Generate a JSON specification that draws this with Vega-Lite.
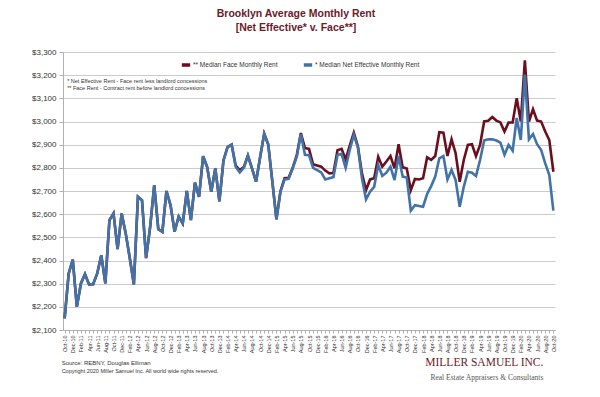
{
  "$schema": "https://vega.github.io/schema/vega-lite/v6.json",
  "width": 492,
  "height": 278,
  "autosize": {"type": "none"},
  "padding": {"left": 63, "top": 52, "right": 45, "bottom": 67},
  "background": "white",
  "config": {
    "view": {"stroke": null},
    "font": "Liberation Sans",
    "numberFormat": "$,.0f",
    "axisY": {
      "tickCount": 12, "labelOverlap": false, "labelBound": false, "title": null,
      "labelFontSize": 8, "labelColor": "#333", "gridColor": "#cccccc",
      "domainColor": "#b0b0b0", "tickColor": "#b0b0b0", "tickSize": 4, "labelPadding": 3
    }
  },
  "title": {
    "text": ["Brooklyn Average Monthly Rent", "[Net Effective* v. Face**]"],
    "font": "Liberation Sans",
    "fontSize": 10.5,
    "fontWeight": "bold",
    "color": "#6b1a2a",
    "lineHeight": 14,
    "offset": 15,
    "anchor": "middle",
    "dx": -13
  },
  "data": {"values": [
    {"m":"Oct-10","face":2150,"net":2150},{"m":"Nov-10","face":2344,"net":2344},{"m":"Dec-10","face":2404,"net":2404},
    {"m":"Jan-11","face":2200,"net":2200},{"m":"Feb-11","face":2301,"net":2301},{"m":"Mar-11","face":2341,"net":2341},
    {"m":"Apr-11","face":2297,"net":2297},{"m":"May-11","face":2298,"net":2298},{"m":"Jun-11","face":2344,"net":2344},
    {"m":"Jul-11","face":2423,"net":2423},{"m":"Aug-11","face":2301,"net":2301},{"m":"Sep-11","face":2574,"net":2574},
    {"m":"Oct-11","face":2603,"net":2603},{"m":"Nov-11","face":2449,"net":2449},{"m":"Dec-11","face":2603,"net":2603},
    {"m":"Jan-12","face":2517,"net":2517},{"m":"Feb-12","face":2410,"net":2410},{"m":"Mar-12","face":2297,"net":2297},
    {"m":"Apr-12","face":2675,"net":2675},{"m":"May-12","face":2660,"net":2660},{"m":"Jun-12","face":2410,"net":2410},
    {"m":"Jul-12","face":2545,"net":2545},{"m":"Aug-12","face":2725,"net":2725},{"m":"Sep-12","face":2535,"net":2535},
    {"m":"Oct-12","face":2524,"net":2524},{"m":"Nov-12","face":2700,"net":2700},{"m":"Dec-12","face":2639,"net":2639},
    {"m":"Jan-13","face":2524,"net":2524},{"m":"Feb-13","face":2590,"net":2590},{"m":"Mar-13","face":2560,"net":2560},
    {"m":"Apr-13","face":2700,"net":2700},{"m":"May-13","face":2574,"net":2574},{"m":"Jun-13","face":2736,"net":2736},
    {"m":"Jul-13","face":2675,"net":2675},{"m":"Aug-13","face":2850,"net":2850},{"m":"Sep-13","face":2803,"net":2803},
    {"m":"Oct-13","face":2697,"net":2697},{"m":"Nov-13","face":2798,"net":2798},{"m":"Dec-13","face":2655,"net":2655},
    {"m":"Jan-14","face":2832,"net":2832},{"m":"Feb-14","face":2889,"net":2889},{"m":"Mar-14","face":2900,"net":2900},
    {"m":"Apr-14","face":2810,"net":2805},{"m":"May-14","face":2790,"net":2780},{"m":"Jun-14","face":2803,"net":2800},
    {"m":"Jul-14","face":2853,"net":2853},{"m":"Aug-14","face":2798,"net":2798},{"m":"Sep-14","face":2740,"net":2740},
    {"m":"Oct-14","face":2846,"net":2846},{"m":"Nov-14","face":2947,"net":2947},{"m":"Dec-14","face":2900,"net":2900},
    {"m":"Jan-15","face":2740,"net":2740},{"m":"Feb-15","face":2580,"net":2576},{"m":"Mar-15","face":2700,"net":2697},
    {"m":"Apr-15","face":2755,"net":2750},{"m":"May-15","face":2757,"net":2753},{"m":"Jun-15","face":2800,"net":2798},
    {"m":"Jul-15","face":2855,"net":2848},{"m":"Aug-15","face":2950,"net":2945},{"m":"Sep-15","face":2885,"net":2856},
    {"m":"Oct-15","face":2882,"net":2855},{"m":"Nov-15","face":2815,"net":2800},{"m":"Dec-15","face":2810,"net":2790},
    {"m":"Jan-16","face":2805,"net":2780},{"m":"Feb-16","face":2788,"net":2750},{"m":"Mar-16","face":2776,"net":2755},
    {"m":"Apr-16","face":2778,"net":2760},{"m":"May-16","face":2876,"net":2855},{"m":"Jun-16","face":2882,"net":2860},
    {"m":"Jul-16","face":2836,"net":2800},{"m":"Aug-16","face":2896,"net":2877},{"m":"Sep-16","face":2952,"net":2942},
    {"m":"Oct-16","face":2893,"net":2890},{"m":"Nov-16","face":2776,"net":2755},{"m":"Dec-16","face":2704,"net":2664},
    {"m":"Jan-17","face":2750,"net":2697},{"m":"Feb-17","face":2755,"net":2718},{"m":"Mar-17","face":2848,"net":2812},
    {"m":"Apr-17","face":2805,"net":2765},{"m":"May-17","face":2827,"net":2779},{"m":"Jun-17","face":2851,"net":2805},
    {"m":"Jul-17","face":2798,"net":2747},{"m":"Aug-17","face":2902,"net":2851},{"m":"Sep-17","face":2802,"net":2762},
    {"m":"Oct-17","face":2797,"net":2758},{"m":"Nov-17","face":2704,"net":2615},{"m":"Dec-17","face":2752,"net":2639},
    {"m":"Jan-18","face":2750,"net":2635},{"m":"Feb-18","face":2755,"net":2632},{"m":"Mar-18","face":2845,"net":2687},
    {"m":"Apr-18","face":2834,"net":2721},{"m":"May-18","face":2851,"net":2762},{"m":"Jun-18","face":2954,"net":2841},
    {"m":"Jul-18","face":2952,"net":2851},{"m":"Aug-18","face":2851,"net":2750},{"m":"Sep-18","face":2923,"net":2791},
    {"m":"Oct-18","face":2863,"net":2747},{"m":"Nov-18","face":2740,"net":2632},{"m":"Dec-18","face":2834,"net":2718},
    {"m":"Jan-19","face":2899,"net":2783},{"m":"Feb-19","face":2902,"net":2779},{"m":"Mar-19","face":2851,"net":2765},
    {"m":"Apr-19","face":2899,"net":2834},{"m":"May-19","face":3000,"net":2918},{"m":"Jun-19","face":3003,"net":2923},
    {"m":"Jul-19","face":3019,"net":2923},{"m":"Aug-19","face":3004,"net":2918},{"m":"Sep-19","face":2996,"net":2909},
    {"m":"Oct-19","face":2957,"net":2856},{"m":"Nov-19","face":2996,"net":2899},{"m":"Dec-19","face":2996,"net":2874},
    {"m":"Jan-20","face":3100,"net":3015},{"m":"Feb-20","face":3000,"net":2920},{"m":"Mar-20","face":3264,"net":3202},
    {"m":"Apr-20","face":3000,"net":2923},{"m":"May-20","face":3053,"net":2946},{"m":"Jun-20","face":3004,"net":2902},
    {"m":"Jul-20","face":3000,"net":2877},{"m":"Aug-20","face":2957,"net":2819},{"m":"Sep-20","face":2920,"net":2769},
    {"m":"Oct-20","face":2783,"net":2615}
  ]},
  "layer": [
    {
      "mark": {"type": "line", "strokeWidth": 2.6},
      "encoding": {
        "x": {
          "field": "m", "type": "ordinal", "sort": null,
          "scale": {"type": "point", "padding": 0.4},
          "axis": {
            "title": null, "labelAngle": 270, "labelFontSize": 5.5, "labelColor": "#333",
            "labelExpr": "indexof(['Oct','Dec','Feb','Apr','Jun','Aug'], slice(datum.value,0,3)) >= 0 ? datum.value : ''",
            "labelOverlap": false, "tickSize": 3, "tickColor": "#b0b0b0", "domainColor": "#b0b0b0",
            "grid": false, "labelPadding": 2
          }
        },
        "y": {
          "field": "face", "type": "quantitative",
          "scale": {"domain": [2100, 3300], "nice": false, "zero": false},
          "axis": {"title": null, "format": "$,.0f", "tickCount": 12, "labelOverlap": false}
        },
        "color": {
          "datum": "** Median Face Monthly Rent",
          "scale": {"domain": ["** Median Face Monthly Rent", "* Median Net Effective Monthly Rent"], "range": ["#6b0e1e", "#4173a8"]},
          "legend": {
            "orient": "none", "legendX": 117, "legendY": 7, "direction": "horizontal", "title": null,
            "symbolType": "stroke", "symbolStrokeWidth": 3.5, "symbolSize": 70,
            "labelFontSize": 6.5, "labelFont": "Liberation Sans", "labelColor": "#333",
            "columnPadding": 18, "labelOffset": 1
          }
        }
      }
    },
    {
      "mark": {"type": "line", "strokeWidth": 2.6},
      "encoding": {
        "x": {"field": "m", "type": "ordinal", "sort": null},
        "y": {"field": "net", "type": "quantitative", "axis": {"title": null, "format": "$,.0f", "tickCount": 12, "labelOverlap": false}},
        "color": {"datum": "* Median Net Effective Monthly Rent"}
      }
    },
    {
      "data": {"values": [{"t": ["* Net Effective Rent - Face rent less landlord concessions", "** Face Rent - Contract rent before landlord concessions"]}]},
      "mark": {"type": "text", "align": "left", "baseline": "top", "fontSize": 5.5, "lineHeight": 7, "color": "#333", "dx": 2.5, "dy": 27},
      "encoding": {
        "x": {"datum": "Oct-10", "type": "ordinal"},
        "y": {"datum": 3300, "type": "quantitative"},
        "text": {"field": "t"}
      }
    },
    {
      "data": {"values": [{"t": "Source: REBNY, Douglas Elliman"}]},
      "mark": {"type": "text", "align": "left", "baseline": "middle", "fontSize": 6, "color": "#333", "dx": -3, "dy": 33},
      "encoding": {
        "x": {"datum": "Oct-10", "type": "ordinal"},
        "y": {"datum": 2100, "type": "quantitative"},
        "text": {"field": "t"}
      }
    },
    {
      "data": {"values": [{"t": "Copyright 2020 Miller Samuel Inc.  All world wide rights reserved."}]},
      "mark": {"type": "text", "align": "left", "baseline": "middle", "fontSize": 5.5, "color": "#333", "dx": -3, "dy": 41},
      "encoding": {
        "x": {"datum": "Oct-10", "type": "ordinal"},
        "y": {"datum": 2100, "type": "quantitative"},
        "text": {"field": "t"}
      }
    },
    {
      "data": {"values": [{"t": "MILLER SAMUEL INC."}]},
      "mark": {"type": "text", "align": "right", "baseline": "middle", "font": "Liberation Serif", "fontSize": 11.5, "color": "#6b1a2a", "dx": -10, "dy": 33},
      "encoding": {
        "x": {"datum": "Oct-20", "type": "ordinal"},
        "y": {"datum": 2100, "type": "quantitative"},
        "text": {"field": "t"}
      }
    },
    {
      "data": {"values": [{"t": "Real Estate Appraisers & Consultants"}]},
      "mark": {"type": "text", "align": "right", "baseline": "middle", "font": "Liberation Serif", "fontSize": 7.5, "color": "#555", "dx": -10, "dy": 48},
      "encoding": {
        "x": {"datum": "Oct-20", "type": "ordinal"},
        "y": {"datum": 2100, "type": "quantitative"},
        "text": {"field": "t"}
      }
    }
  ]
}
